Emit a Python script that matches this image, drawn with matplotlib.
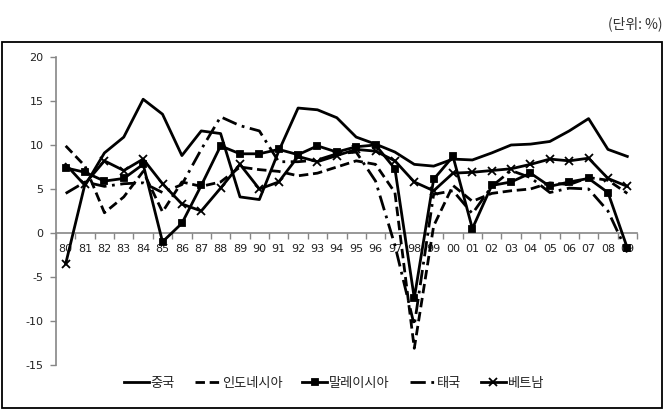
import matplotlib
matplotlib.use("Agg")
import matplotlib.pyplot as plt
from matplotlib.patches import Rectangle
import numpy as np

plt.rcParams['font.family'] = ['DejaVu Sans', 'Noto Sans CJK KR']
plt.rcParams['axes.unicode_minus'] = False

years = ["80", "81", "82", "83", "84", "85", "86", "87", "88", "89",
         "90", "91", "92", "93", "94", "95", "96", "97", "98", "99",
         "00", "01", "02", "03", "04", "05", "06", "07", "08", "09"]

china = [7.8, 5.4, 9.1, 10.9, 15.2, 13.5, 8.8, 11.6, 11.3, 4.1,
         3.8, 9.3, 14.2, 14.0, 13.1, 10.9, 10.1, 9.2, 7.8, 7.6,
         8.4, 8.3, 9.1, 10.0, 10.1, 10.4, 11.6, 13.0, 9.5, 8.7]
indonesia = [9.9, 7.6, 2.3, 4.1, 7.0, 2.4, 5.8, 5.3, 5.8, 7.5,
             7.2, 7.0, 6.5, 6.8, 7.5, 8.2, 7.8, 4.6, -13.1, 0.8,
             5.4, 3.6, 4.5, 4.8, 5.0, 5.7, 5.5, 6.3, 6.0, 4.5]
malaysia = [7.4, 6.9, 5.9, 6.2, 7.8, -1.0, 1.1, 5.4, 9.9, 9.0,
            9.0, 9.5, 8.9, 9.9, 9.2, 9.8, 10.0, 7.3, -7.4, 6.1,
            8.7, 0.5, 5.4, 5.8, 6.8, 5.3, 5.8, 6.2, 4.6, -1.7]
thailand = [4.5, 5.8, 5.3, 5.6, 5.7, 4.6, 5.5, 9.5, 13.2, 12.2,
            11.6, 8.1, 8.1, 8.3, 9.0, 9.2, 5.9, -1.4, -10.5, 4.4,
            4.8, 2.2, 5.3, 7.1, 6.3, 4.6, 5.1, 5.0, 2.5, -2.2]
vietnam = [-3.5, 5.6, 8.2, 7.1, 8.4, 5.6, 3.3, 2.5, 5.1, 7.8,
           5.0, 5.8, 8.7, 8.1, 8.8, 9.5, 9.3, 8.2, 5.8, 4.8,
           6.8, 6.9, 7.1, 7.3, 7.8, 8.4, 8.2, 8.5, 6.2, 5.3]

labels = ["중국", "인도네시아", "말레이시아", "태국", "베트남"]

fig = plt.figure(figsize=(6.69, 4.13), dpi=100)
ax = fig.add_axes([56/669, 1-365/413, (637-56)/669, (365-57)/413])

x = np.arange(len(years))
lw = 2.0
styles = [
    dict(data=china, ls='-', marker=None, ms=0),
    dict(data=indonesia, ls=(0, (3.4, 1.7)), marker=None, ms=0),
    dict(data=malaysia, ls='-', marker='s', ms=4.3),
    dict(data=thailand, ls=(0, (5.5, 2, 1, 2)), marker=None, ms=0),
    dict(data=vietnam, ls='-', marker='x', ms=5.5),
]
handles = []
for st, lab in zip(styles, labels):
    ln, = ax.plot(x, st['data'], color='black', lw=lw, ls=st['ls'],
                  marker=st['marker'], markersize=st['ms'],
                  markeredgewidth=1.3, clip_on=False, zorder=3,
                  dash_capstyle='butt')
    handles.append(ln)

ax.set_xlim(-0.5, len(years) - 0.5)
ax.set_ylim(-15, 20)
ax.set_yticks(np.arange(-15, 21, 5))
ax.set_xticks(x)
ax.set_xticklabels(years)
ax.set_xticks(np.arange(-0.5, len(years), 1), minor=True)

for s in ['top', 'right']:
    ax.spines[s].set_visible(False)
ax.spines['bottom'].set_position(('data', 0))
for s in ['left', 'bottom']:
    ax.spines[s].set_color('#868686')
    ax.spines[s].set_linewidth(1.2)
ax.tick_params(axis='x', which='major', length=0, pad=8, labelsize=8, colors='#222222')
ax.tick_params(axis='x', which='minor', length=4, width=1, color='#868686')
ax.tick_params(axis='y', length=4, width=1, color='#868686', labelsize=8, pad=5,
               labelcolor='#222222')
ax.patch.set_visible(False)

leg = fig.legend(handles, labels, loc='center', bbox_to_anchor=(334/669, 1-383/413),
                 ncol=5, frameon=False, handlelength=1.9, handletextpad=0.15,
                 columnspacing=1.5, prop={'family': ['Noto Sans CJK KR'], 'size': 9.5})
for t in leg.get_texts():
    t.set_color('#222222')

fig.patches.append(Rectangle((2/669, 1-408/413), 660/669, 366/413,
                             transform=fig.transFigure, fill=False,
                             edgecolor='black', lw=1.3))

fig.text(663/669, 1-24/413, "(단위: %)", ha='right', va='center',
         fontsize=10, color='#333333', family=['Noto Sans CJK KR'])

fig.savefig("out.png", dpi=100)
